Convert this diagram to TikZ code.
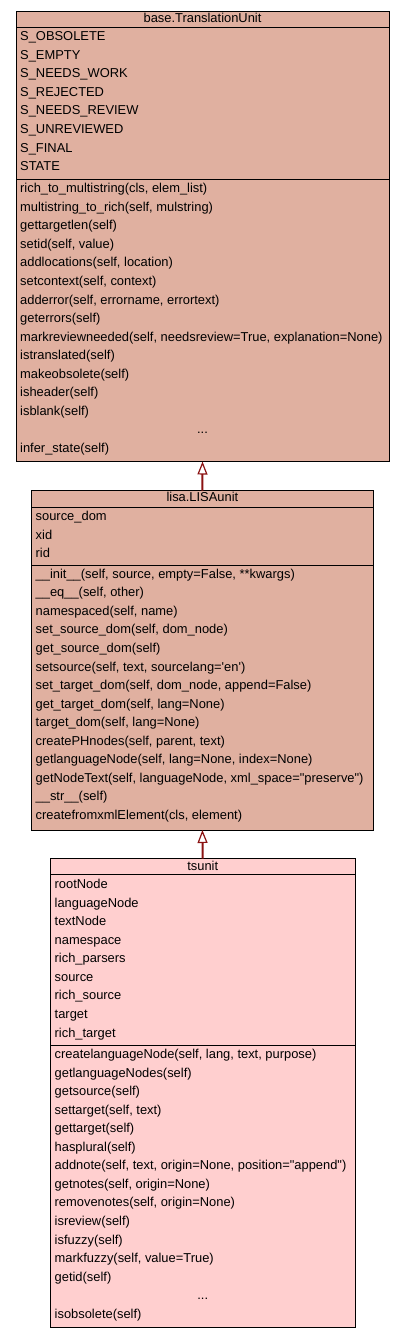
\documentclass[tikz,border=0pt]{standalone}
\usepackage{fontspec}
\setmainfont{Liberation Sans}[Ligatures=TeXOff]
\usetikzlibrary{arrows.meta}
\definecolor{boxA}{RGB}{224,176,160}
\definecolor{boxC}{RGB}{255,207,207}
\definecolor{inh}{RGB}{139,18,18}
\begin{document}
\begin{tikzpicture}[x=1pt,y=-1pt,
  font=\fontsize{12.9}{14}\selectfont,
  cls/.style={draw=black, line width=1pt, anchor=north west, inner sep=0pt, outer sep=0pt},
  sep/.style={draw=black, line width=1pt},
  txt/.style={anchor=base west, inner sep=0pt},
  ttl/.style={anchor=base, inner sep=0pt},
  inhline/.style={draw=inh, line width=2pt,
    -{Triangle[open, length=13pt, width=10pt, line width=1.2pt, fill=white]}}]
\useasboundingbox (0,0) rectangle (405,1339);
\def\pitch{18.55}
% ---------- base.TranslationUnit ----------
\node[cls, fill=boxA, minimum width=373pt, minimum height=450.5pt] (b1) at (16,11) {};
\draw[sep] (b1.north west |- 0,27.3) -- (b1.north east |- 0,27.3);
\draw[sep] (b1.north west |- 0,179.7) -- (b1.north east |- 0,179.7);
\node[ttl] (b1t) at (202.5,22.3) {base.TranslationUnit};
\foreach \t [count=\i from 0] in {S\_OBSOLETE,S\_EMPTY,S\_NEEDS\_WORK,S\_REJECTED,S\_NEEDS\_REVIEW,S\_UNREVIEWED,S\_FINAL,STATE}
  \node[txt] (b1a\i) at (20,40.7+\i*\pitch) {\t};
\foreach \t [count=\i from 0] in {{rich\_to\_multistring(cls, elem\_list)},{multistring\_to\_rich(self, mulstring)},{gettargetlen(self)},{setid(self, value)},{addlocations(self, location)},{setcontext(self, context)},{adderror(self, errorname, errortext)},{geterrors(self)},{markreviewneeded(self, needsreview=True, explanation=None)},{istranslated(self)},{makeobsolete(self)},{isheader(self)},{isblank(self)}}
  \node[txt] (b1m\i) at (20,192.7+\i*\pitch) {\t};
\node[ttl] (b1d) at (202.5,192.7+13*\pitch) {...};
\node[txt] (b1l) at (20,192.7+14*\pitch) {infer\_state(self)};
% ---------- lisa.LISAunit ----------
\node[cls, fill=boxA, minimum width=341.8pt, minimum height=339.3pt] (b2) at (31.5,490.7) {};
\draw[sep] (b2.north west |- 0,507) -- (b2.north east |- 0,507);
\draw[sep] (b2.north west |- 0,565) -- (b2.north east |- 0,565);
\node[ttl] (b2t) at (202.4,501.7) {lisa.LISAunit};
\foreach \t [count=\i from 0] in {source\_dom,xid,rid}
  \node[txt] (b2a\i) at (35.5,520.7+\i*\pitch) {\t};
\foreach \t [count=\i from 0] in {{\_\_init\_\_(self, source, empty=False, **kwargs)},{\_\_eq\_\_(self, other)},{namespaced(self, name)},{set\_source\_dom(self, dom\_node)},{get\_source\_dom(self)},{setsource(self, text, sourcelang='en')},{set\_target\_dom(self, dom\_node, append=False)},{get\_target\_dom(self, lang=None)},{target\_dom(self, lang=None)},{createPHnodes(self, parent, text)},{getlanguageNode(self, lang=None, index=None)},{getNodeText(self, languageNode, xml\_space="preserve")},{\_\_str\_\_(self)},{createfromxmlElement(cls, element)}}
  \node[txt] (b2m\i) at (35.5,578.3+\i*\pitch) {\t};
% ---------- tsunit ----------
\node[cls, fill=boxC, minimum width=304.5pt, minimum height=469pt] (b3) at (50.5,858.7) {};
\draw[sep] (b3.north west |- 0,874.7) -- (b3.north east |- 0,874.7);
\draw[sep] (b3.north west |- 0,1045.7) -- (b3.north east |- 0,1045.7);
\node[ttl] (b3t) at (202.75,870) {tsunit};
\foreach \t [count=\i from 0] in {rootNode,languageNode,textNode,namespace,rich\_parsers,source,rich\_source,target,rich\_target}
  \node[txt] (b3a\i) at (54.5,888.6+\i*\pitch) {\t};
\foreach \t [count=\i from 0] in {{createlanguageNode(self, lang, text, purpose)},{getlanguageNodes(self)},{getsource(self)},{settarget(self, text)},{gettarget(self)},{hasplural(self)},{addnote(self, text, origin=None, position="append")},{getnotes(self, origin=None)},{removenotes(self, origin=None)},{isreview(self)},{isfuzzy(self)},{markfuzzy(self, value=True)},{getid(self)}}
  \node[txt] (b3m\i) at (54.5,1058.5+\i*\pitch) {\t};
\node[ttl] (b3d) at (202.75,1058.5+13*\pitch) {...};
\node[txt] (b3l) at (54.5,1058.5+14*\pitch) {isobsolete(self)};
% ---------- inheritance ----------
\draw[inhline] (b2.north) -- (b1.south);
\draw[inhline] (b3.north) -- (b2.south);
\end{tikzpicture}
\end{document}
